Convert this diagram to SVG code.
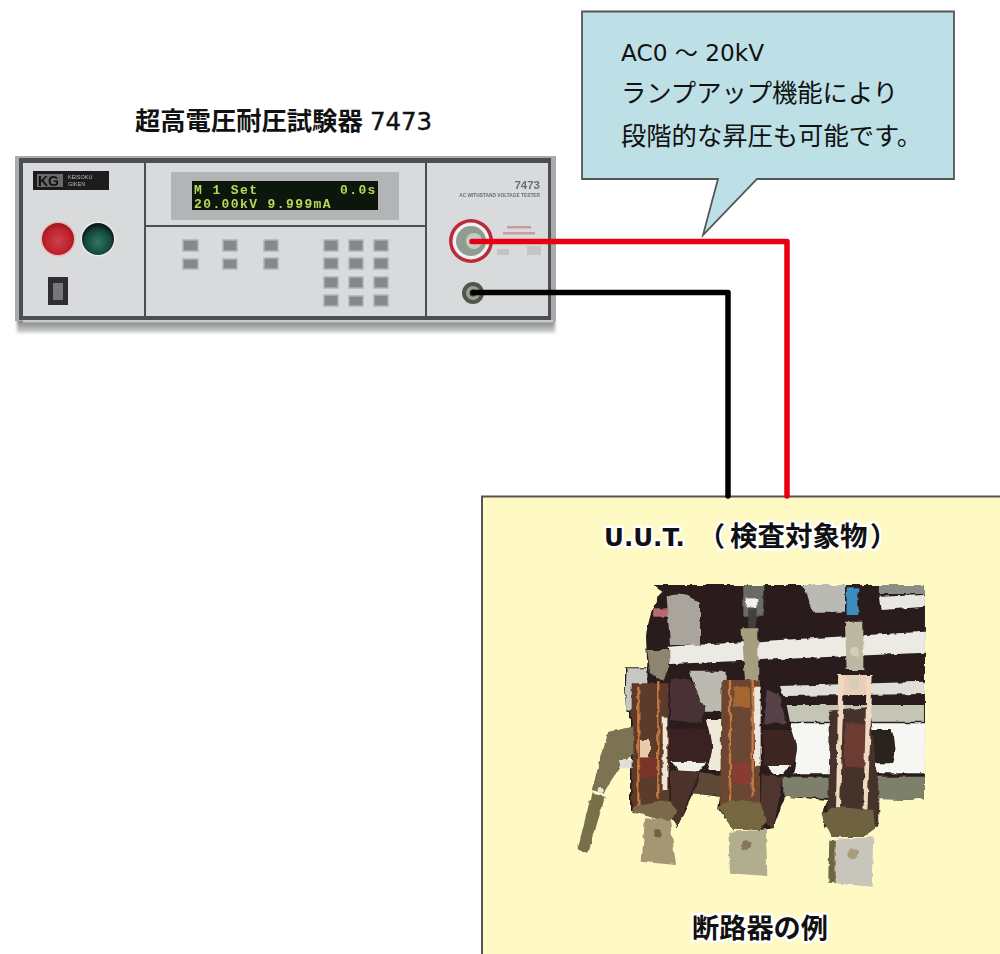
<svg xmlns="http://www.w3.org/2000/svg" width="1000" height="954" viewBox="0 0 1000 954">
<style>
.t{font-family:"Noto Sans CJK JP","DejaVu Sans",sans-serif;fill:#111;font-weight:700}
.lat{font-family:"DejaVu Sans","Noto Sans CJK JP",sans-serif}
.halo{paint-order:stroke;stroke:#fff;stroke-width:5px;stroke-linejoin:round}
.c{font-size:25.300px;font-weight:400}
.wire{fill:none;stroke-width:5.500;stroke-linejoin:round;stroke-linecap:round}
.key{fill:#85898a;stroke:#b0b3b4;stroke-width:1.500}
.div{stroke:#4c5052;stroke-width:2}
.tiny{font-family:"Liberation Sans",sans-serif;fill:#6a6d70}
.lcd{font-family:"Liberation Mono",monospace;font-size:13px;font-weight:700;fill:#b5d95a;letter-spacing:1.400px}
.cu{fill:none;stroke:#c97a42;stroke-width:7}
</style>
<defs>
<linearGradient id="sh" x1="0" y1="0" x2="0" y2="1"><stop offset="0" stop-color="#6f7274"/><stop offset="1" stop-color="#d8d9d9"/></linearGradient>
<radialGradient id="rb" cx=".5" cy=".55" r=".55"><stop offset="0" stop-color="#c8424c"/><stop offset=".75" stop-color="#c01f2a"/><stop offset="1" stop-color="#8e1a20"/></radialGradient>
<radialGradient id="gb" cx=".5" cy=".6" r=".55"><stop offset="0" stop-color="#2f7a60"/><stop offset=".7" stop-color="#16483c"/><stop offset="1" stop-color="#0c1a18"/></radialGradient>
<filter id="soft" x="-5%" y="-5%" width="110%" height="110%"><feGaussianBlur stdDeviation=".6"/></filter>
<filter id="soft2" x="-5%" y="-20%" width="110%" height="140%"><feGaussianBlur stdDeviation="1.500"/></filter>
<filter id="rough" x="-5%" y="-5%" width="110%" height="110%"><feTurbulence type="fractalNoise" baseFrequency=".035" numOctaves="2" seed="4" result="n"/><feDisplacementMap in="SourceGraphic" in2="n" scale="14" xChannelSelector="R" yChannelSelector="G"/><feGaussianBlur stdDeviation=".9"/></filter>
</defs>

<g id="uut">
<rect x="482" y="496.500" width="530" height="480" fill="#fff9c4" stroke="#555" stroke-width="2"/>
<text class="t lat halo" x="604" y="546" font-size="24.500">U.U.T.</text>
<text class="t halo" x="698" y="546" font-size="27">（</text>
<text class="t halo" x="730" y="546" font-size="27.500">検査対象物</text>
<text class="t halo" x="870" y="546" font-size="27">）</text>
<text class="t halo" x="692" y="938" font-size="27.200">断路器の例</text>
</g>

<g id="device">
<rect x="17" y="319" width="538" height="14" fill="url(#sh)" filter="url(#soft2)"/>
<g filter="url(#soft)">
<rect x="15" y="156" width="541" height="165" fill="#a9abad"/>
<rect x="19" y="158" width="532" height="162" fill="#4c5052"/>
<rect x="23" y="163" width="525" height="153" fill="#d9dadc"/>
<rect x="23" y="320" width="530" height="2.500" fill="#c8cacb"/>
<line class="div" x1="145" y1="163" x2="145" y2="317"/>
<line class="div" x1="426" y1="163" x2="426" y2="317"/>
<line class="div" x1="145" y1="226" x2="426" y2="226"/>
<rect x="171" y="172" width="228" height="48" fill="#b2b4b6"/>
<rect x="192" y="181" width="186" height="29" fill="#10160f"/>
<text class="lcd" x="194" y="194">M 1 Set</text>
<text class="lcd" x="340" y="194">0.0s</text>
<text class="lcd" x="194" y="208">20.00kV 9.999mA</text>
<rect x="33" y="171" width="76" height="19" fill="#1d1d1d"/>
<rect x="37" y="174" width="26" height="13" fill="#6a6a6a"/>
<text x="38" y="186" font-family="Liberation Sans,sans-serif" font-size="14" font-weight="700" fill="#111">KG</text>
<text x="68" y="179" font-family="Liberation Sans,sans-serif" font-size="5.500" fill="#bbb">KEISOKU</text>
<text x="68" y="186" font-family="Liberation Sans,sans-serif" font-size="5.500" fill="#bbb">GIKEN</text>
<circle cx="58" cy="239" r="17.500" fill="#e8b8b8"/>
<circle cx="58" cy="239" r="16" fill="url(#rb)"/>
<circle cx="98" cy="239" r="17.500" fill="#e9ecea"/>
<circle cx="98" cy="239" r="16" fill="url(#gb)"/>
<rect x="48" y="277" width="20" height="28" fill="#2d2f30"/>
<rect x="53" y="283" width="10" height="17" fill="#75787a"/>
<g class="keys">
<rect class="key" x="183" y="240" width="15" height="11"/><rect class="key" x="183" y="259" width="15" height="10"/>
<rect class="key" x="223" y="240" width="14" height="11"/><rect class="key" x="223" y="259" width="14" height="10"/>
<rect class="key" x="264" y="240" width="14" height="11"/><rect class="key" x="264" y="258" width="14" height="11"/>
<rect class="key" x="324" y="240" width="14" height="11"/><rect class="key" x="349" y="240" width="14" height="11"/><rect class="key" x="374" y="240" width="14" height="11"/>
<rect class="key" x="324" y="258" width="14" height="11"/><rect class="key" x="349" y="258" width="14" height="11"/><rect class="key" x="374" y="258" width="14" height="11"/>
<rect class="key" x="324" y="277" width="14" height="11"/><rect class="key" x="349" y="277" width="14" height="11"/><rect class="key" x="374" y="277" width="14" height="11"/>
<rect class="key" x="324" y="295" width="14" height="11"/><rect class="key" x="349" y="296" width="14" height="10"/><rect class="key" x="374" y="295" width="14" height="11"/>
</g>
<text class="tiny" x="540" y="189" font-size="11.500" font-weight="700" text-anchor="end" fill="#444">7473</text>
<text class="tiny" x="540" y="197" font-size="4.800" font-weight="700" text-anchor="end">AC WITHSTAND VOLTAGE TESTER</text>
<circle cx="471" cy="241" r="22" fill="#b92c3c"/>
<circle cx="471" cy="241" r="18.500" fill="#f0f0ee"/>
<circle cx="471" cy="241" r="15" fill="#8f9c92"/>
<circle cx="474" cy="241" r="8" fill="#c3ccc6"/>
<rect x="507" y="226" width="24" height="2.500" fill="#c99aa0"/>
<rect x="503" y="232" width="32" height="2.500" fill="#c99aa0"/>
<rect x="497" y="249" width="12" height="6" fill="#c2c4c6"/>
<rect x="527" y="246" width="14" height="9" fill="#c2c4c6"/>
<circle cx="473" cy="293" r="11" fill="#50564e"/>
<circle cx="473" cy="293" r="7" fill="#9aa08f"/>
<circle cx="473" cy="293" r="3.500" fill="#3a3d36"/>
</g>
</g>

<g id="callout">
<path d="M582 11.500H954V179H757L703 235L718 179H582Z" fill="#bde0e6" stroke="#555" stroke-width="1.800"/>
<text class="t lat c" x="621" y="61" style="font-size:23.200px">AC0 〜 20kV</text>
<text class="t c" x="621" y="102">ランプアップ機能により</text>
<text class="t c" x="621" y="145">段階的な昇圧も可能です。</text>
</g>

<g id="title"><text class="t" x="135" y="130" font-size="25.300">超高電圧耐圧試験器</text><text class="t lat" x="370" y="130" font-size="24.400" style="font-weight:400" stroke="#111" stroke-width=".4">7473</text></g>

<g id="connectors">
<path class="wire" stroke="#e60012" d="M472 241.500H787V496"/>
<path class="wire" stroke="#000" d="M473 292.500H728V496"/>
</g>

<g id="photo" transform="translate(570 580) scale(.3333)" filter="url(#rough)">
<path d="M250 15H1065V655L1010 660L925 655L915 745L880 770H785L755 705L775 660L645 650L610 745L570 750H490L445 685L450 650L370 640L320 745L300 700L180 690V400L165 388V262H232L228 170Q240 70 280 35Z" fill="#2a1f1f"/>
<path d="M700 15H825V95L730 95Z" fill="#b9bab4"/>
<path d="M930 50L1065 45V80L935 90Z" fill="#e8e8e2"/>
<path d="M930 15H1065V42H930Z" fill="#8b8d88"/>
<path d="M290 50Q340 30 390 70V195H300Z" fill="#a9a49c"/>
<path d="M250 85H295V110H250Z" fill="#b86a70"/>
<path d="M520 15H580V110H520Z" fill="#6b6b66"/>
<path d="M530 55H562V82H530Z" fill="#f2f2ee"/>
<path d="M535 85H560V145H535Z" fill="#3f4042"/>
<path d="M830 25H865V105H830Z" fill="#3d8cc0"/>
<path d="M290 200L1065 155V218L300 252Z" fill="#ecebe3"/>
<path d="M170 265H232V390H185L165 388Z" fill="#c5c8c3"/>
<path d="M360 275H470V395H400Z" fill="#bcb9b0"/>
<path d="M630 318L1065 305V342L640 348Z" fill="#dfdfd8"/>
<path d="M650 375H1062V425H660Z" fill="#c4c5b5"/>
<path d="M660 430H1065V580H670Q690 500 660 430Z" fill="#f6f6f2"/>
<path d="M410 420Q440 500 410 570H470V420Z" fill="#efe9d8"/>
<path d="M300 545H410L385 575H330Z" fill="#efefe8"/>
<path d="M590 555H660L640 582H610Z" fill="#f2f2ea"/>
<path d="M900 450H965Q985 500 970 550H905Z" fill="#2b201c"/>
<path d="M640 590H1065V655L1010 660L640 650Z" fill="#7d806a"/>
<path d="M300 300L360 295L405 385L395 430L300 420Z" fill="#4a3034"/>
<path d="M590 330L625 340L650 430L580 430Z" fill="#584048"/>
<path d="M295 445H410Q440 500 415 545H295Z" fill="#3b2120"/>
<path d="M580 450H660Q700 500 665 555H580Z" fill="#3e2624"/>
<path d="M300 570L390 575L320 745L300 700Z" fill="#4c3029"/>
<path d="M575 585L640 590L610 745L570 720Z" fill="#4f342e"/>
<path d="M390 580L470 590V650L370 640Z" fill="#5d4a34"/>
<path d="M185 310H295V690H185Z" fill="#5c3a2a"/>
<path d="M455 300H570V690H450Z" fill="#6b4630"/>
<path d="M780 395L900 380L925 620V740H760L775 660Z" fill="#45302a"/>
<path d="M210 480H240V530H210Z" fill="#e8c9a8"/>
<path d="M200 530H260V590H200Z" fill="#7a3428"/>
<path d="M490 320H540V380H490Z" fill="#a5652f"/>
<path d="M490 550H540V610H490Z" fill="#8a3a30"/>
<path d="M825 430H885V560H825Z" fill="#6c3a30"/>
<path d="M115 455L190 440V520L160 550L100 640L65 630Z" fill="#7d7353"/>
<path d="M65 640L105 650L55 818L22 810Z" fill="#777048"/>
<circle cx="92" cy="630" r="9" fill="#e8e6d6"/>
<path d="M150 540H185V565H155Z" fill="#dedfd8"/>
<path d="M232 210H298V260L280 300L240 280Z" fill="#8e8570"/>
<path d="M515 145H565V300H525Z" fill="#a79e80"/>
<path d="M825 125H880V270H830Z" fill="#bdb8a2"/>
<circle cx="855" cy="215" r="15" fill="#d3cdb6"/>
<path class="cu" d="M205 320V680M265 300V660"/>
<path d="M278 410H292V630H278Z" fill="#f2e4d0"/>
<path class="cu" d="M480 300V680M548 300V650"/>
<path d="M552 320H572V560H556Z" fill="#f0e6da"/>
<path d="M805 285H905V345H805Z" fill="#e8cdb8"/>
<circle cx="852" cy="312" r="16" fill="#d6cdb8"/>
<path d="M805 285H822L810 690H798Z" fill="#f0d9c0"/>
<path d="M890 285H908L892 700H880Z" fill="#f0d9c0"/>
<path d="M185 680L300 660L325 700L290 725L185 695Z" fill="#7a6a48"/>
<path d="M445 680L490 660L570 665L590 720L570 750H490Z" fill="#75683f"/>
<path d="M755 705L790 680L910 690L915 745L880 770H785Z" fill="#6e6240"/>
<path d="M225 715L300 720L318 855L215 845Z" fill="#a59773"/>
<circle cx="262" cy="760" r="12" fill="#6d6246"/>
<path d="M475 755L588 750L592 888L480 880Z" fill="#b1ad8f"/>
<circle cx="528" cy="795" r="15" fill="#84775a"/>
<path d="M778 778L910 772L905 920L775 908Z" fill="#c8c6bb"/>
<path d="M778 780H797V908H775Z" fill="#6d6640"/>
<circle cx="848" cy="822" r="16" fill="#a89c7a"/>
</g>
</svg>
